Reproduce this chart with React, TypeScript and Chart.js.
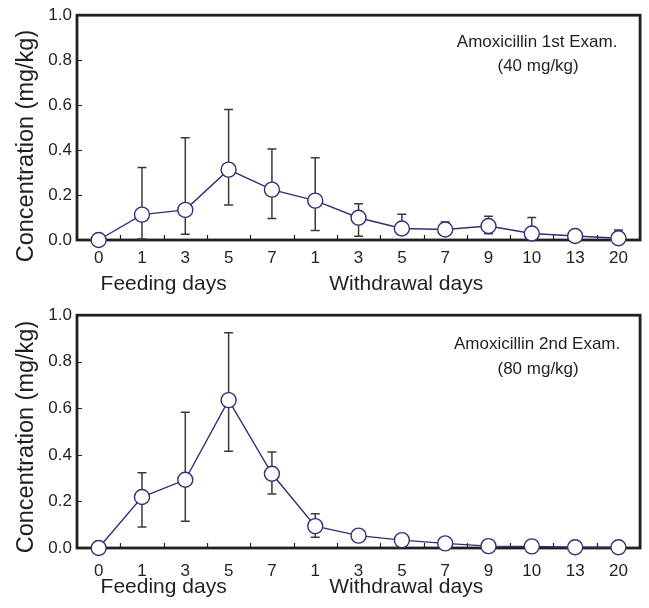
import React, { useEffect, useRef } from 'react';
import { Chart, registerables } from 'chart.js';

Chart.register(...registerables);

const dayLabels = ['0', '1', '3', '5', '7', '1', '3', '5', '7', '9', '10', '13', '20'];
const yTickValues = [0, 0.2, 0.4, 0.6, 0.8, 1.0];
const phaseLabels = ['Feeding days', 'Withdrawal days'];
const yAxisTitle = 'Concentration (mg/kg)';

const exam1Title = ['Amoxicillin 1st Exam.', '(40 mg/kg)'];
const exam1Mean = [0, 0.113, 0.134, 0.313, 0.224, 0.175, 0.099, 0.051, 0.047, 0.062, 0.029, 0.018, 0.008];
const exam1Upper = [null, 0.322, 0.455, 0.58, 0.405, 0.366, 0.161, 0.114, 0.08, 0.106, 0.1, null, 0.044];
const exam1Lower = [null, 0.005, 0.026, 0.156, 0.096, 0.042, 0.017, 0.03, 0.03, 0.028, 0.0, null, 0.0];

const exam2Title = ['Amoxicillin 2nd Exam.', '(80 mg/kg)'];
const exam2Mean = [0, 0.219, 0.293, 0.635, 0.319, 0.094, 0.053, 0.034, 0.02, 0.008, 0.007, 0.003, 0.003];
const exam2Upper = [null, 0.323, 0.583, 0.925, 0.412, 0.147, null, null, null, null, null, null, null];
const exam2Lower = [null, 0.09, 0.115, 0.416, 0.232, 0.046, null, null, null, null, null, null, null];

const FONT = "'Liberation Sans', Arial, Helvetica, sans-serif";
const INK = '#231f20';
const NAVY = '#2e3178';

type Panel = {
  mean: number[];
  upper: (number | null)[];
  lower: (number | null)[];
  note: string[];
  topPad: number;
  tickPad: number;
  phaseBaseline: number;
  yTitleCenter: number;
  noteY: number[];
};

function makeChart(canvas: HTMLCanvasElement, p: Panel) {
  const decor = {
    id: 'decor',
    beforeDatasetsDraw(chart: any) {
      const { ctx, chartArea: a } = chart;
      const xs = chart.scales.x;
      const ys = chart.scales.y;
      ctx.save();
      // inner tick marks
      ctx.strokeStyle = INK;
      ctx.lineWidth = 1.2;
      ctx.beginPath();
      for (let i = 0; i < dayLabels.length - 1; i++) {
        const x = Math.round((xs.getPixelForTick(i) + xs.getPixelForTick(i + 1)) / 2) + 0.5;
        ctx.moveTo(x, a.bottom);
        ctx.lineTo(x, a.bottom - 5);
      }
      for (const v of yTickValues) {
        if (v === 0 || v === 1) continue;
        const y = Math.round(ys.getPixelForValue(v)) + 0.5;
        ctx.moveTo(a.left, y);
        ctx.lineTo(a.left + 5, y);
      }
      ctx.stroke();
      // frame
      ctx.lineWidth = 2.8;
      ctx.strokeRect(a.left, a.top, a.right - a.left, a.bottom - a.top);
      // error bars
      ctx.strokeStyle = '#3a3a3a';
      ctx.lineWidth = 1.5;
      ctx.beginPath();
      for (let i = 0; i < p.mean.length; i++) {
        const up = p.upper[i];
        const lo = p.lower[i];
        if (up == null || lo == null) continue;
        const x = xs.getPixelForValue(i);
        const yu = ys.getPixelForValue(up);
        const yl = ys.getPixelForValue(lo);
        ctx.moveTo(x, yu);
        ctx.lineTo(x, yl);
        ctx.moveTo(x - 4.5, yu);
        ctx.lineTo(x + 4.5, yu);
        ctx.moveTo(x - 4.5, yl);
        ctx.lineTo(x + 4.5, yl);
      }
      ctx.stroke();
      ctx.restore();
    },
    afterDraw(chart: any) {
      const { ctx, chartArea: a } = chart;
      const xs = chart.scales.x;
      ctx.save();
      ctx.fillStyle = INK;
      // phase labels
      ctx.font = `21px ${FONT}`;
      ctx.textAlign = 'center';
      ctx.textBaseline = 'alphabetic';
      ctx.fillText(phaseLabels[0], xs.getPixelForValue(1.5), a.bottom + p.phaseBaseline);
      ctx.fillText(phaseLabels[1], xs.getPixelForValue(7.1), a.bottom + p.phaseBaseline);
      // note
      ctx.font = `17px ${FONT}`;
      ctx.textBaseline = 'middle';
      ctx.fillText(p.note[0], a.right - 103, a.top + p.noteY[0]);
      ctx.fillText(p.note[1], a.right - 102, a.top + p.noteY[1]);
      // y title
      ctx.translate(33, p.yTitleCenter);
      ctx.rotate(-Math.PI / 2);
      ctx.font = `23.5px ${FONT}`;
      ctx.textBaseline = 'alphabetic';
      ctx.textAlign = 'center';
      ctx.fillText(yAxisTitle, 0, 0);
      ctx.restore();
    },
  };

  return new Chart(canvas, {
    type: 'line',
    data: {
      labels: dayLabels,
      datasets: [
        {
          data: p.mean,
          borderColor: NAVY,
          borderWidth: 1.4,
          backgroundColor: '#ffffff',
          pointBackgroundColor: '#ffffff',
          pointBorderColor: NAVY,
          pointBorderWidth: 1.4,
          pointRadius: 7.5,
          pointHoverRadius: 7.5,
          tension: 0,
          clip: false,
        } as any,
      ],
    },
    options: {
      responsive: false,
      maintainAspectRatio: false,
      devicePixelRatio: 1,
      animation: false,
      events: [],
      layout: { padding: { top: p.topPad, right: 7, left: 0, bottom: 0 } },
      plugins: { legend: { display: false }, tooltip: { enabled: false } },
      scales: {
        x: {
          type: 'category',
          offset: true,
          grid: { display: false, drawTicks: false },
          border: { display: false },
          ticks: {
            autoSkip: false,
            maxRotation: 0,
            padding: p.tickPad,
            color: INK,
            font: { family: FONT, size: 17 },
          },
          afterFit(s: any) {
            s.height = 60;
          },
        },
        y: {
          min: 0,
          max: 1,
          grid: { display: false, drawTicks: false },
          border: { display: false },
          ticks: {
            stepSize: 0.2,
            padding: 5,
            color: INK,
            font: { family: FONT, size: 17 },
            callback: (v: any) => Number(v).toFixed(1),
          },
          afterFit(s: any) {
            s.width = 77;
          },
        },
      },
    },
    plugins: [decor],
  } as any);
}

export default function App() {
  const topRef = useRef<HTMLCanvasElement>(null);
  const botRef = useRef<HTMLCanvasElement>(null);

  useEffect(() => {
    const c1 = makeChart(topRef.current!, {
      mean: exam1Mean,
      upper: exam1Upper,
      lower: exam1Lower,
      note: exam1Title,
      topPad: 11,
      tickPad: 8,
      phaseBaseline: 50,
      yTitleCenter: 146,
      noteY: [27, 51],
    });
    const c2 = makeChart(botRef.current!, {
      mean: exam2Mean,
      upper: exam2Upper,
      lower: exam2Lower,
      note: exam2Title,
      topPad: 14,
      tickPad: 13,
      phaseBaseline: 45,
      yTitleCenter: 137,
      noteY: [29, 54],
    });
    return () => {
      c1.destroy();
      c2.destroy();
    };
  }, []);

  return (
    <div style={{ position: 'absolute', left: 0, top: 0, width: 649, height: 608, background: '#fff' }}>
      <canvas ref={topRef} width={649} height={300} style={{ position: 'absolute', left: 0, top: 0 }} />
      <canvas ref={botRef} width={649} height={308} style={{ position: 'absolute', left: 0, top: 300 }} />
    </div>
  );
}
